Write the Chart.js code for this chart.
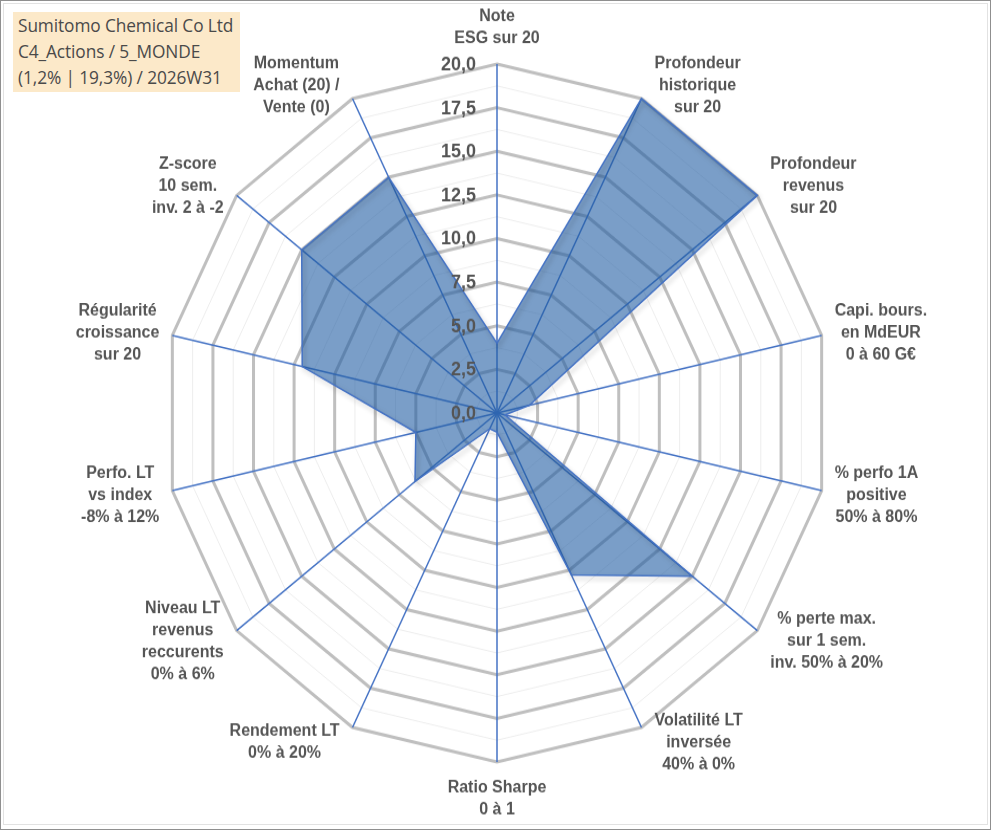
<!DOCTYPE html>
<html>
<head>
<meta charset="utf-8">
<script src="https://cdn.jsdelivr.net/npm/chart.js@4.4.1/dist/chart.umd.min.js"></script>
<style>
  html, body { margin: 0; padding: 0; background: #fff; }
  #wrap { position: relative; width: 991px; height: 830px; overflow: hidden; }
  /* the source picture is slightly taller than wide: stretch around the centre */
  #myChart { position: absolute; left: 0; top: 0; transform-origin: 0 413px; transform: scaleY(1.048); }
  .frame { position: absolute; pointer-events: none; box-sizing: border-box; }
  #outer { left: 0; top: 0; width: 991px; height: 830px; border: 1px solid #8f8f8f; }
  #inner { left: 3px; top: 3px; width: 985px; height: 822px; border: 1px solid #e2e2e2; }
  #titleBox {
    position: absolute; left: 13px; top: 12px; width: 227px; height: 80px;
    background: #fce9c9; color: #4a4a4a;
    font-family: "Open Sans", sans-serif; font-size: 17.3px; line-height: 26px;
    padding: 1px 0 0 5px; box-sizing: border-box; white-space: nowrap; letter-spacing: -0.1px;
  }
</style>
</head>
<body>
<div id="wrap">
  <canvas id="myChart" width="991" height="830"></canvas>
  <div id="titleBox">Sumitomo Chemical Co Ltd<br>C4_Actions / 5_MONDE<br>(1,2% | 19,3%) / 2026W31</div>
  <div class="frame" id="outer"></div>
  <div class="frame" id="inner"></div>
</div>
<script>
// axes (clockwise from top)
const axisLabels = [
  ["Note", "ESG sur 20"],
  ["Profondeur", "historique", "sur 20"],
  ["Profondeur", "revenus", "sur 20"],
  ["Capi. bours.", "en MdEUR", "0 à 60 G€"],
  ["% perfo 1A", "positive", "50% à 80%"],
  ["% perte max.", "sur 1 sem.", "inv. 50% à 20%"],
  ["Volatilité LT", "inversée", "40% à 0%"],
  ["Ratio Sharpe", "0 à 1"],
  ["Rendement LT", "0% à 20%"],
  ["Niveau LT", "revenus", "reccurents", "0% à 6%"],
  ["Perfo. LT", "vs index", "-8% à 12%"],
  ["Régularité", "croissance", "sur 20"],
  ["Z-score", "10 sem.", "inv. 2 à -2"],
  ["Momentum", "Achat (20) /", "Vente (0)"]
];

const scores = [4, 20, 20, 2, 0.5, 15, 10.3, 1.1, 1, 6.3, 5, 12, 15, 15];

const tickValues = [0, 2.5, 5, 7.5, 10, 12.5, 15, 17.5, 20];

const labelFont = 'bold 16px "Liberation Sans", Arial, sans-serif';
const tickFont = 'bold 18px "Liberation Sans", Arial, sans-serif';
const textColor = '#555555';

// excel-like shadow under the filled area
const shadowPlugin = {
  id: 'shadow',
  beforeDatasetDraw(chart) {
    const c = chart.ctx;
    c.save();
    c.shadowColor = 'rgba(0,0,0,0.28)';
    c.shadowBlur = 5;
    c.shadowOffsetX = 2;
    c.shadowOffsetY = 3;
  },
  afterDatasetDraw(chart) {
    chart.ctx.restore();
  }
};

// tick labels left of the vertical axis, and the axis titles
const labelsPlugin = {
  id: 'labels',
  afterDraw(chart) {
    const c = chart.ctx;
    const s = chart.scales.r;
    c.save();
    c.fillStyle = textColor;

    c.font = tickFont;
    c.textAlign = 'right';
    c.textBaseline = 'middle';
    tickValues.forEach(v => {
      const y = s.yCenter - s.getDistanceFromCenterForValue(v);
      c.fillText(v.toFixed(1).replace('.', ','), s.xCenter - 21, y + 1);
    });

    c.font = labelFont;
    c.textAlign = 'center';
    const lh = 21;
    axisLabels.forEach((lines, i) => {
      const a = s.getIndexAngle(i);
      const end = s.getPointPosition(i, s.drawingArea);
      const w = Math.max(...lines.map(t => c.measureText(t).width));
      const h = lines.length * lh;
      const sin = Math.sin(a), cos = Math.cos(a);
      let cx, cy;
      if (Math.abs(sin) < 0.1) {
        cx = end.x;
        cy = end.y - cos * (h / 2 + 14);
      } else {
        cx = end.x + Math.sign(sin) * (w / 2 + 13);
        cy = end.y - cos * 15 + 1;
      }
      lines.forEach((t, k) => {
        c.fillText(t, cx, cy + (k - (lines.length - 1) / 2) * lh);
      });
    });
    c.restore();
  }
};

var ctx = document.getElementById('myChart').getContext('2d');

var myChart = new Chart(ctx, {
  type: 'radar',
  data: {
    labels: axisLabels,
    datasets: [{
      data: scores,
      fill: true,
      backgroundColor: 'rgba(33, 93, 163, 0.6)',
      borderColor: '#4472C4',
      borderWidth: 1.5,
      pointRadius: 0,
      tension: 0
    }]
  },
  options: {
    responsive: false,
    animation: false,
    layout: { padding: { left: 164, right: 161, top: 80, bottom: 84 } },
    plugins: {
      legend: { display: false },
      tooltip: { enabled: false }
    },
    scales: {
      r: {
        min: 0,
        max: 20,
        ticks: { stepSize: 1.25, display: false },
        grid: {
          color: c => (c.tick && c.tick.value % 2.5 === 0) ? '#bfbfbf' : '#ededed',
          lineWidth: c => (c.tick && c.tick.value % 2.5 === 0) ? 3 : 1
        },
        angleLines: { color: '#4472C4', lineWidth: 1.5 },
        pointLabels: { display: false }
      }
    }
  },
  plugins: [shadowPlugin, labelsPlugin]
});
</script>
</body>
</html>
